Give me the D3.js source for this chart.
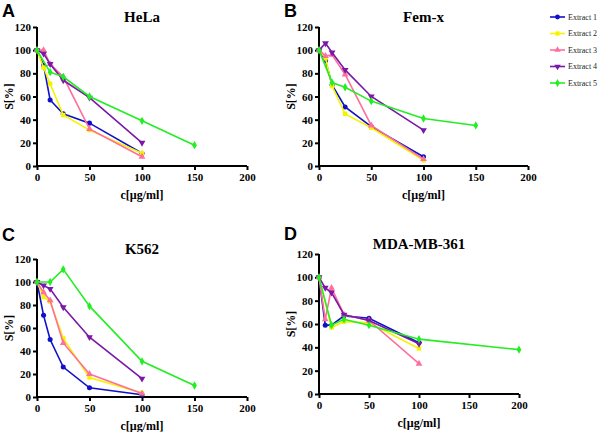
<!DOCTYPE html>
<html>
<head>
<meta charset="utf-8">
<script src="https://cdn.jsdelivr.net/npm/d3@7"></script>
<style>
  body { margin: 0; background: #fff; }
  svg { display: block; }
</style>
</head>
<body>
<div class="chart"></div>
<script>
// chart data
const extracts = ["Extract 1", "Extract 2", "Extract 3", "Extract 4", "Extract 5"];
const xTicks = [0, 50, 100, 150, 200];
const yTicks = [0, 20, 40, 60, 80, 100, 120];

// [c, S] pairs per extract
const hela = [
  [[0, 100], [6.25, 87], [12.5, 57], [25, 45], [50, 37], [100, 11]],
  [[0, 100], [6.25, 85], [12.5, 71], [25, 44], [50, 31], [100, 11]],
  [[0, 100], [6.25, 100], [12.5, 88], [25, 77], [50, 32], [100, 8]],
  [[0, 100], [6.25, 97], [12.5, 88], [25, 74], [50, 59], [100, 20]],
  [[0, 100], [12.5, 81], [25, 77], [50, 60], [100, 39], [150, 18]]
];
const femx = [
  [[0, 100], [6.25, 91], [12.5, 70], [25, 51], [50, 34], [100, 8]],
  [[0, 100], [6.25, 93], [12.5, 69], [25, 45], [50, 33], [100, 5]],
  [[0, 100], [6.25, 95], [12.5, 96], [25, 79], [50, 35], [100, 6]],
  [[0, 100], [6.25, 106], [12.5, 98], [25, 83], [50, 60], [100, 31]],
  [[0, 100], [12.5, 72], [25, 68], [50, 56], [100, 41], [150, 35]]
];
const k562 = [
  [[0, 100], [6.25, 71], [12.5, 50], [25, 26], [50, 8], [100, 2]],
  [[0, 100], [6.25, 87], [12.5, 83], [25, 51], [50, 17], [100, 3.5]],
  [[0, 100], [6.25, 91], [12.5, 84], [25, 47], [50, 20], [100, 3]],
  [[0, 100], [6.25, 97], [12.5, 94], [25, 78], [50, 52], [100, 16]],
  [[0, 100], [12.5, 100], [25, 111], [50, 79], [100, 31], [150, 10]]
];
const mdamb = [
  [[0, 100], [6.25, 59], [12.5, 59], [25, 67], [50, 65], [100, 44]],
  [[0, 100], [12.5, 57], [25, 62], [50, 61], [100, 39]],
  [[0, 100], [6.25, 64], [12.5, 91], [25, 68], [50, 63], [100, 26]],
  [[0, 100], [6.25, 91], [12.5, 87], [25, 68], [50, 63], [100, 43]],
  [[0, 100], [12.5, 59], [25, 64], [50, 59], [100, 47], [200, 38]]
];

// styles
const colors = ["#1010c8", "#f4f400", "#ff6f9c", "#7a18a8", "#22ee22"];
const symbols = [d3.symbolCircle, d3.symbolSquare, d3.symbolTriangle, d3.symbolTriangle, d3.symbolDiamond];
const serif = '"Liberation Serif", "Times New Roman", serif';

const width = 600;
const height = 432;

const panels = [
  {letter: "A", title: "HeLa", data: hela, x0: 37, x1: 247, y0: 166, y1: 27, ly: 17},
  {letter: "B", title: "Fem-x", data: femx, x0: 319, x1: 528, y0: 166, y1: 27, ly: 17},
  {letter: "C", title: "K562", data: k562, x0: 37, x1: 247, y0: 397, y1: 259, ly: 241},
  {letter: "D", title: "MDA-MB-361", data: mdamb, x0: 319, x1: 519, y0: 394, y1: 254, ly: 240}
];

const svg = d3.select('.chart')
  .append('svg')
  .attr('width', width)
  .attr('height', height);

function marker(i, size) {
  return d3.symbol().type(symbols[i]).size(size)();
}

function drawPanel(p) {
  const x = d3.scaleLinear().domain([0, 200]).range([p.x0, p.x1]);
  const y = d3.scaleLinear().domain([0, 120]).range([p.y0, p.y1]);
  const g = svg.append('g');

  // axes
  const ax = g.append('g')
    .attr('transform', `translate(0, ${p.y0})`)
    .call(d3.axisBottom(x).tickValues(xTicks).tickSize(4).tickPadding(3));
  const ay = g.append('g')
    .attr('transform', `translate(${p.x0}, 0)`)
    .call(d3.axisLeft(y).tickValues(yTicks).tickSize(4).tickPadding(2));

  [ax, ay].forEach(a => {
    a.select('.domain').attr('stroke', '#000').attr('stroke-width', 2);
    a.selectAll('.tick line').attr('stroke', '#000').attr('stroke-width', 2);
    a.selectAll('.tick text')
      .style('font-family', serif)
      .style('font-weight', 'bold')
      .style('font-size', '11px')
      .attr('fill', '#000');
  });
  // pas de ticks extérieurs sur les domaines
  ax.select('.domain').attr('d', `M${p.x0},0H${p.x1}`);
  ay.select('.domain').attr('d', `M0,${p.y0}V${p.y1}`);

  const line = d3.line().x(d => x(d[0])).y(d => y(d[1]));

  p.data.forEach((series, i) => {
    const s = g.append('g');
    s.append('path')
      .datum(series)
      .attr('d', line)
      .attr('fill', 'none')
      .attr('stroke', colors[i])
      .attr('stroke-width', 1.6);
    s.selectAll('path.pt')
      .data(series)
      .join('path')
        .attr('class', 'pt')
        .attr('d', marker(i, 20))
        .attr('transform', d => `translate(${x(d[0])}, ${y(d[1])})${i === 3 ? ' rotate(180)' : ''}`)
        .attr('fill', colors[i]);
  });

  // title
  g.append('text')
    .attr('x', x(100))
    .attr('y', p.y1 - 5)
    .attr('text-anchor', 'middle')
    .style('font-family', serif)
    .style('font-weight', 'bold')
    .style('font-size', '15px')
    .text(p.title);

  // x label
  g.append('text')
    .attr('x', x(100))
    .attr('y', p.y0 + 33)
    .attr('text-anchor', 'middle')
    .style('font-family', serif)
    .style('font-weight', 'bold')
    .style('font-size', '12px')
    .text('c[µg/ml]');

  // y label
  g.append('text')
    .attr('transform', `translate(${p.x0 - 24}, ${y(60)}) rotate(-90)`)
    .attr('text-anchor', 'middle')
    .style('font-family', serif)
    .style('font-weight', 'bold')
    .style('font-size', '12px')
    .text('S[%]');

  // panel letter
  g.append('text')
    .attr('x', p.x0 - 35)
    .attr('y', p.ly)
    .style('font-family', '"Liberation Sans", Arial, sans-serif')
    .style('font-weight', 'bold')
    .style('font-size', '18px')
    .text(p.letter);
}

panels.forEach(drawPanel);

// legend
const legend = svg.append('g');
const ly = d3.scalePoint().domain(extracts).range([17, 83]);
extracts.forEach((name, i) => {
  const row = legend.append('g').attr('transform', `translate(550, ${ly(name)})`);
  row.append('line')
    .attr('x1', 0).attr('x2', 15)
    .attr('stroke', colors[i])
    .attr('stroke-width', 1.6);
  row.append('path')
    .attr('d', marker(i, 18))
    .attr('transform', `translate(7.5, 0)${i === 3 ? ' rotate(180)' : ''}`)
    .attr('fill', colors[i]);
  row.append('text')
    .attr('x', 18)
    .attr('dy', '0.32em')
    .style('font-family', serif)
    .style('font-size', '8px')
    .attr('fill', '#222')
    .text(name);
});
</script>
</body>
</html>
